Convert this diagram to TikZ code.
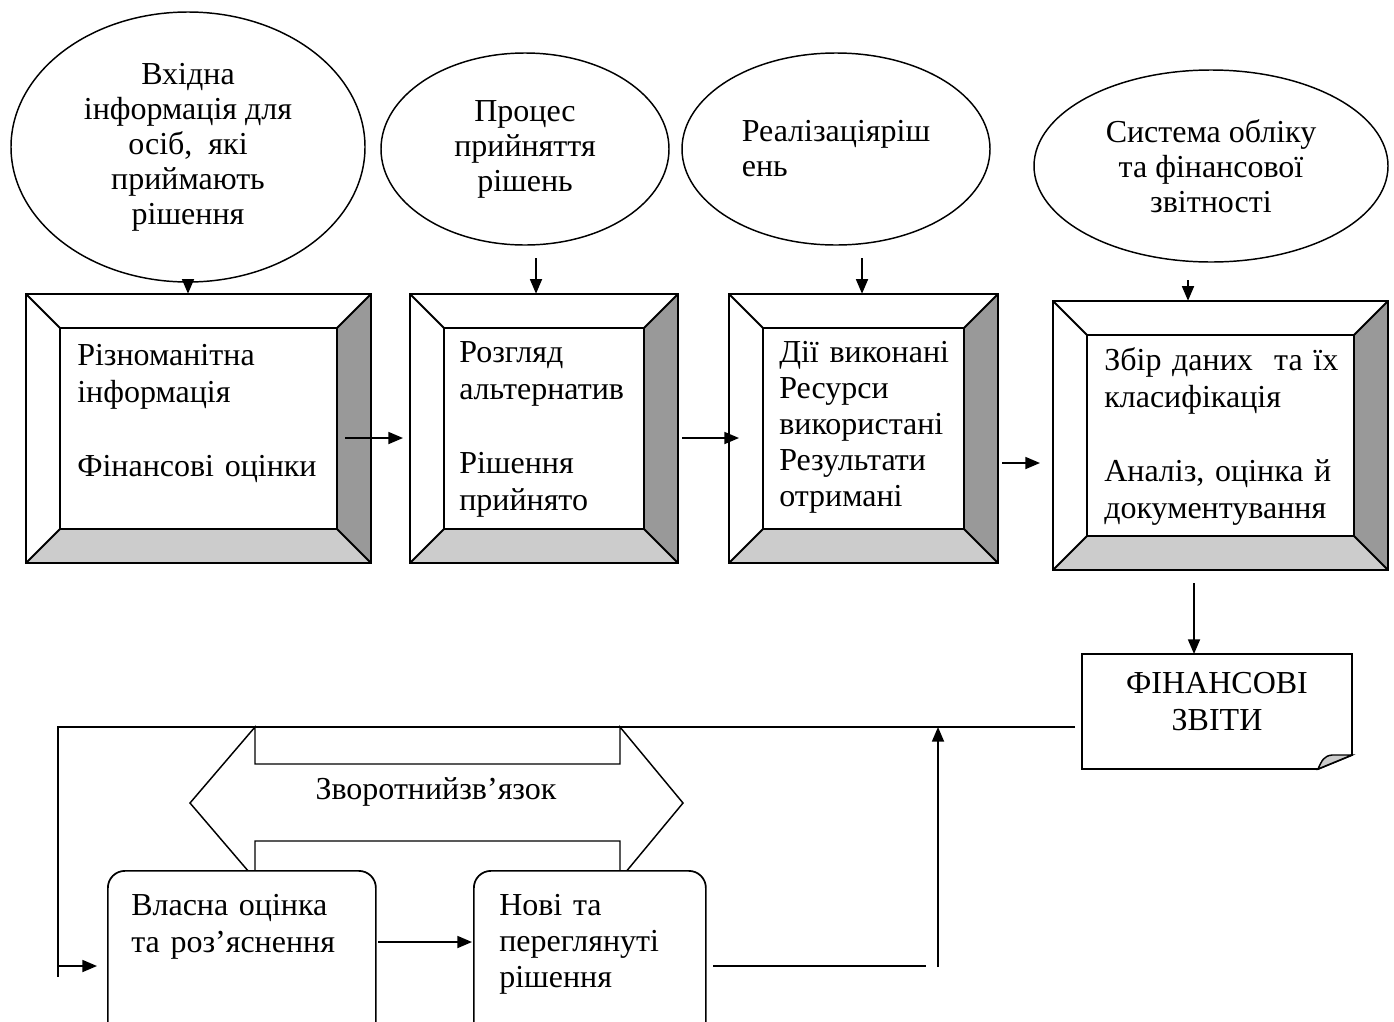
\documentclass[tikz,border=0pt]{standalone}
\usepackage{fontspec}
\setmainfont{Liberation Serif}
\usetikzlibrary{arrows.meta,shapes.geometric}
\definecolor{darkshade}{HTML}{999999}
\definecolor{lightshade}{HTML}{CCCCCC}
\newcommand{\btxt}{\fontsize{24pt}{27.75pt}\selectfont}
\newcommand{\etxt}{\fontsize{24pt}{26.25pt}\selectfont}
\newcommand{\bevbox}[5]{%
  \node[bevnode, minimum width={(#4-#2)*0.75pt}, minimum height={(#5-#3)*0.75pt}] (#1) at ({(#2+#4)/2},{(#3+#5)/2}) {};
  \fill[lightshade] (#2,#5) -- (#4,#5) -- ({#4-34},{#5-34}) -- ({#2+34},{#5-34}) -- cycle;
  \fill[darkshade] (#4,#3) -- (#4,#5) -- ({#4-34},{#5-34}) -- ({#4-34},{#3+34}) -- cycle;
  \draw[boxline] (#2,#3) rectangle (#4,#5);
  \draw[boxline] ({#2+34},{#3+34}) rectangle ({#4-34},{#5-34});
  \draw[boxline] (#2,#3) -- ({#2+34},{#3+34}) (#4,#3) -- ({#4-34},{#3+34})
     (#4,#5) -- ({#4-34},{#5-34}) (#2,#5) -- ({#2+34},{#5-34});
}
\begin{document}
\begin{tikzpicture}[x=0.75pt,y=-0.75pt,
  boxline/.style={line width=1.4pt, line join=miter},
  bevnode/.style={inner sep=0pt, draw=none},
  conn/.style={line width=1.3pt},
  arr/.style={line width=1.3pt,-{Triangle[length=11pt,width=9pt]}},
  ell/.style={draw, ellipse, line width=1.1pt, inner sep=0pt, font=\etxt},
  btext/.style={inner sep=0pt, anchor=base west, font=\btxt, text width=280pt, align=left},
  rbox/.style={draw, fill=white, line width=1.3pt, rounded corners=12.75pt, inner sep=0pt, anchor=north west}
]
\useasboundingbox[fill=white] (0,0) rectangle (1394,1021);

% ellipses
\node[ell, align=center, minimum width={354*0.75pt}, minimum height={270*0.75pt}] (e1) at (188,147)
  {Вхідна\\інформація для\\осіб,\ \ які\\приймають\\рішення};
\node[ell, align=center, minimum width={288*0.75pt}, minimum height={192*0.75pt}] (e2) at (525,149)
  {Процес\\прийняття\\рішень};
\node[ell, align=left, minimum width={308*0.75pt}, minimum height={192*0.75pt}] (e3) at (836,149)
  {Реалізаціяріш\\ень};
\node[ell, align=center, minimum width={354*0.75pt}, minimum height={192*0.75pt}] (e4) at (1211,166)
  {Система обліку\\та фінансової\\звітності};

% bevel boxes
\bevbox{b1}{26}{294}{371}{563}
\bevbox{b2}{410}{294}{678}{563}
\bevbox{b3}{729}{294}{998}{563}
\bevbox{b4}{1053}{301}{1388}{570}

\node[btext] (t1) at (77,365) {Різноманітна\\інформація\\[27.75pt]Фінансові оцінки};
\node[btext] (t2) at (459,362) {Розгляд\\альтернатив\\[27.75pt]Рішення\\прийнято};
\node[btext, font=\fontsize{24pt}{27pt}\selectfont] (t3) at (779,362) {Дії виконані\\Ресурси\\використані\\Результати\\отримані};
\node[btext] (t4) at (1104,370) {Збір даних\ \ та їх\\класифікація\\[27.75pt]Аналіз, оцінка й\\документування};

% arrows from ellipses to boxes
\draw[arr] (e1.south) -- (e1.south |- b1.north);
\coordinate (a2) at (536,258);
\coordinate (a3) at (862,258);
\coordinate (a4) at (1188,280);
\draw[arr] (a2) -- (a2 |- b2.north);
\draw[arr] (a3) -- (a3 |- b3.north);
\draw[arr] (a4) -- (a4 |- b4.north);

% arrows between boxes
\coordinate (o1) at (345,438); \coordinate (i2) at (403,438);
\coordinate (o2) at (682,438); \coordinate (i3) at (739,438);
\coordinate (o3) at (1002,463); \coordinate (i4) at (1040,463);
\draw[arr] (o1) -- (i2);
\draw[arr] (o2) -- (i3);
\draw[arr] (o3) -- (i4);

% financial statements document
\coordinate (dnw) at (1082,654);
\coordinate (dse) at (1352,769);
\draw[boxline, fill=white] (dnw) -- (1352,654) -- (1352,755) -- (1318,769) -- (1082,769) -- cycle;
\filldraw[fill=lightshade, line width=1.1pt] (1318,769) .. controls (1322,760) and (1324,756) .. (1332,755) -- (1352,755) -- cycle;
\node[inner sep=0pt, anchor=base, font=\btxt, align=center] (doc) at (1217,730) {ФІНАНСОВІ\\ЗВІТИ};
\coordinate (b4out) at (1194,583);
\draw[arr] (b4out) -- (b4out |- dnw);

% feedback double arrow
\draw[line width=1.1pt, fill=white] (190,803) -- (255,727) -- (255,764) -- (620,764) -- (620,727) -- (683,803)
  -- (620,879) -- (620,841) -- (255,841) -- (255,879) -- cycle;
\node[inner sep=0pt, anchor=base, font=\btxt] (fb) at (436,799) {Зворотнийзв’язок};

% bottom rounded boxes (clipped at page bottom)
\begin{scope}
\clip (0,0) rectangle (1394,1021);
\node[rbox, minimum width={268*0.75pt}, minimum height={200*0.75pt}] (r1) at (107,870) {};
\node[rbox, minimum width={232*0.75pt}, minimum height={200*0.75pt}] (r2) at (473,870) {};
\end{scope}
\node[btext] (tr1) at (131,915) {Власна оцінка\\та роз’яснення};
\node[btext, font=\fontsize{24pt}{27pt}\selectfont] (tr2) at (499,915) {Нові та\\переглянуті\\рішення};

% feedback loop lines
\coordinate (fl) at (1075,727);
\coordinate (fc) at (58,727);
\coordinate (fd) at (58,977);
\draw[conn] (fl) -- (fc) -- (fd);
\coordinate (fa) at (58,966); \coordinate (fat) at (97,966);
\draw[arr] (fa) -- (fat);
\coordinate (r1o) at (378,942); \coordinate (r2i) at (472,942);
\draw[arr] (r1o) -- (r2i);
\coordinate (r2o) at (713,966); \coordinate (r2e) at (926,966);
\draw[conn] (r2o) -- (r2e);
\coordinate (up) at (938,967);
\draw[arr] (up) -- (up |- fc);
\end{tikzpicture}
\end{document}
